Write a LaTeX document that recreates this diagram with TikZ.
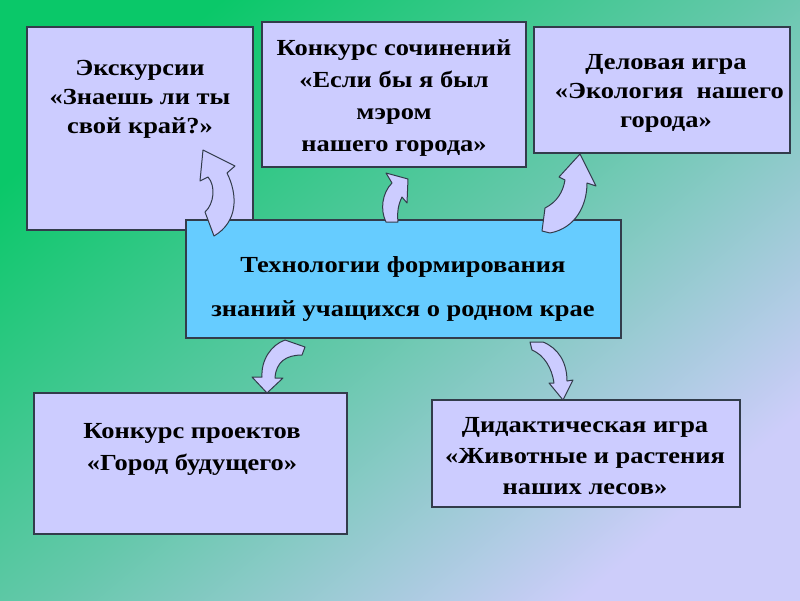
\documentclass[tikz,border=0pt]{standalone}
\usepackage{fontspec}
\setmainfont{Liberation Serif}[FakeStretch=1.15]
\definecolor{bgA}{RGB}{10,200,105}
\definecolor{bgM}{RGB}{100,200,170}
\definecolor{bgB}{RGB}{205,205,250}
\definecolor{boxfill}{RGB}{204,204,255}
\definecolor{midfill}{RGB}{102,204,255}
\definecolor{edge}{RGB}{50,60,75}
\tikzset{
  box/.style={draw=edge, line width=1.3pt, fill=boxfill, rectangle, inner sep=0pt},
  midbox/.style={box, fill=midfill},
  lbl/.style={font=\bfseries\fontsize{23}{29}\selectfont, align=center, text=black, inner sep=0pt},
  blockarrow/.style={draw=edge, line width=1pt, fill=boxfill, line join=round},
}
\begin{document}
\begin{tikzpicture}[x=1pt,y=-1pt]
\useasboundingbox (0,0) rectangle (800,600);
\shade[top color=bgA, bottom color=bgB, middle color=bgM, shading angle=40] (0,0) rectangle (800,600);

% boxes
\node[box, minimum width=226pt, minimum height=203pt] (b1) at (140,128.5) {};
\node[box, minimum width=264pt, minimum height=145pt] (b2) at (394,94.5) {};
\node[box, minimum width=256pt, minimum height=126pt] (b3) at (662,90) {};
\node[midbox, minimum width=435pt, minimum height=118pt] (c) at (403.5,279) {};
\node[box, minimum width=313pt, minimum height=141pt] (b4) at (190.5,463.5) {};
\node[box, minimum width=308pt, minimum height=107pt] (b5) at (586,453.5) {};

% texts
\node[lbl] (t1) at (140,99) {Экскурсии\\«Знаешь ли ты\\свой край?»};
\node[lbl, font=\bfseries\fontsize{23}{32}\selectfont] (t2) at (394,98) {Конкурс сочинений\\«Если бы я был\\мэром\\нашего города»};
\node[lbl] (t3) at (666,93) {Деловая игра\\\ «Экология\ \ нашего\\города»};
\node[lbl, font=\bfseries\fontsize{23}{44}\selectfont] (tc) at (403,289) {Технологии формирования\\знаний учащихся о родном крае};
\node[lbl, font=\bfseries\fontsize{23}{32}\selectfont] (t4) at (192,449) {Конкурс проектов\\«Город будущего»};
\node[lbl, font=\bfseries\fontsize{23}{31}\selectfont] (t5) at (585,456) {Дидактическая игра\\«Животные и растения\\наших лесов»};

% curved block arrows
\draw[blockarrow] (203,150) -- (235,166) -- (227,173) .. controls (238,195) and (238,222) .. (214,236) -- (205,212) .. controls (214,204) and (216,186) .. (208,177) -- (200,181) -- cycle;
\draw[blockarrow] (386,173) -- (408,179) -- (407,203) -- (402,197) .. controls (398,205) and (397,213) .. (398,222) -- (386,222) .. controls (380,210) and (382,193) .. (392,183) -- cycle;
\draw[blockarrow] (580,154) -- (596,186) -- (587,183) .. controls (587,205) and (576,228) .. (550,233) -- (542,231) -- (545,208) .. controls (557,202) and (563,192) .. (565,180) -- (559,177) -- cycle;
\draw[blockarrow] (267,393) -- (252,377) -- (262,377) .. controls (261,360) and (271,345) .. (285,340) -- (305,347) -- (302,355) .. controls (286,355) and (276,362) .. (275,378) -- (283,378) -- cycle;
\draw[blockarrow] (563,400) -- (549,383) -- (554,383) .. controls (552,368) and (544,355) .. (532,350) -- (530,342) -- (543,342) .. controls (558,348) and (567,362) .. (567,381) -- (573,380) -- cycle;
\end{tikzpicture}
\end{document}
